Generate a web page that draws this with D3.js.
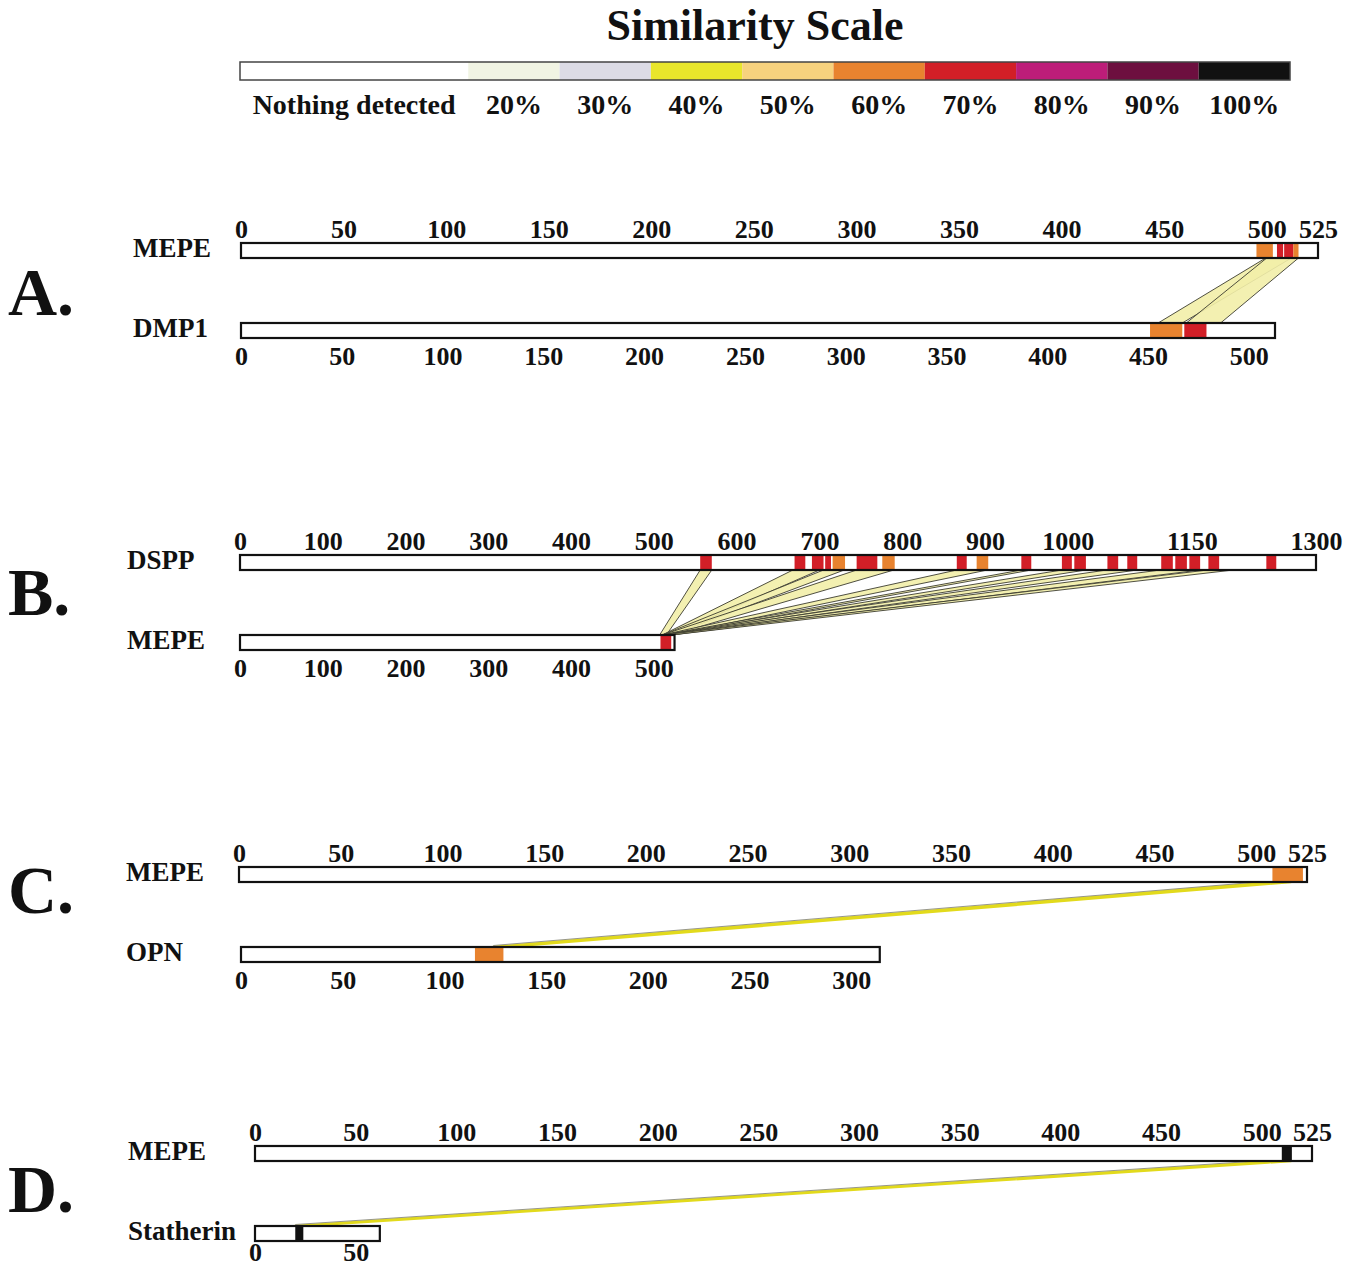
<!DOCTYPE html>
<html>
<head>
<meta charset="utf-8">
<script src="https://cdn.jsdelivr.net/npm/d3@7"></script>
<style>
  html, body { margin: 0; padding: 0; background: #ffffff; }
  svg { display: block; }
  text { font-family: "Liberation Serif", "Times New Roman", serif; font-weight: bold; fill: #111; }
</style>
</head>
<body>
<svg id="chart" width="1366" height="1269"></svg>
<script>
// ---- Similarity scale ----
const scaleLabels = ["Nothing detected", "20%", "30%", "40%", "50%", "60%", "70%", "80%", "90%", "100%"];
const scaleLevels = [0, 20, 30, 40, 50, 60, 70, 80, 90, 100];
const scaleColors = ["#ffffff", "#f1f4e3", "#dcdbe5", "#e9e62b", "#f7d27e", "#e8832f", "#d21f27", "#bd1d79", "#6d0f3f", "#111111"];

// ---- Protein lengths (residues) ----
const lenMEPE = 525;
const lenDMP1 = 513;
const lenDSPP = 1300;
const lenOPN = 314;
const lenStatherin = 62;

// ---- Tick labels ----
const ticksMEPE = [0, 50, 100, 150, 200, 250, 300, 350, 400, 450, 500, 525];
const ticksDMP1 = [0, 50, 100, 150, 200, 250, 300, 350, 400, 450, 500];
const ticksDSPP = [0, 100, 200, 300, 400, 500, 600, 700, 800, 900, 1000, 1150, 1300];
const ticksMEPEshort = [0, 100, 200, 300, 400, 500];
const ticksOPN = [0, 50, 100, 150, 200, 250, 300];
const ticksStatherin = [0, 50];

// ---- Similar regions: [start, end, similarity %] ----
const segA_MEPE = [[495, 503, 60], [505, 508, 70], [508.5, 513, 70], [513, 515.5, 60]];
const segA_DMP1 = [[451, 467, 60], [468, 479, 70]];
const segB_DSPP = [
  [556, 570, 70], [670, 683, 70], [691, 705, 70], [707, 714, 70], [716, 731, 60],
  [745, 770, 70], [776, 791, 60], [866, 878, 70], [890, 904, 60], [944, 956, 70],
  [993, 1005, 70], [1008, 1022, 70], [1048, 1061, 70], [1072, 1084, 70], [1113, 1127, 70],
  [1130, 1144, 70], [1147, 1160, 70], [1170, 1183, 70], [1240, 1252, 70]
];
const segB_MEPE = [[508, 521, 70]];
const segC_MEPE = [[508, 523, 60]];
const segC_OPN = [[115, 129, 60]];
const segD_MEPE = [[510, 515, 100]];
const segD_Statherin = [[20, 24, 100]];

// ---- Alignments: [top start, top end, bottom start, bottom end] ----
const linksA = [[499.5, 512, 455, 467], [500, 515.5, 469, 486]];
const linksB = [
  [556, 570, 507, 515], [668, 700, 510, 521], [705, 730, 510, 521], [745, 790, 510, 521],
  [866, 903, 510, 521], [944, 956, 511, 521], [993, 1022, 511, 521], [1047, 1084, 511, 521],
  [1112, 1160, 511, 521], [1169, 1200, 511, 521]
];
const linksC = [[510, 517, 124, 130]];
const linksD = [[509.5, 514.5, 20, 23.5]];

// ---------------------------------------------------------------------------
const svg = d3.select("#chart");
const colorOf = d3.scaleOrdinal().domain(scaleLevels).range(scaleColors);

// Legend: the "Nothing detected" cell is 2.5 cells wide
const cellUnits = scaleLevels.map((d, i) => (i === 0 ? 2.5 : 1));
const cumUnits = [0];
cellUnits.forEach(u => cumUnits.push(cumUnits[cumUnits.length - 1] + u));
const legendX = d3.scaleLinear().domain([0, cumUnits[cumUnits.length - 1]]).range([240, 1290]);
const legend = svg.append("g");
legend.append("text")
  .attr("x", 755).attr("y", 40)
  .attr("text-anchor", "middle")
  .style("font-size", "44px")
  .text("Similarity Scale");
legend.selectAll("rect.cell").data(scaleLevels).join("rect")
  .attr("class", "cell")
  .attr("x", (d, i) => legendX(cumUnits[i]))
  .attr("width", (d, i) => legendX(cumUnits[i + 1]) - legendX(cumUnits[i]))
  .attr("y", 62).attr("height", 18)
  .attr("fill", d => colorOf(d));
legend.append("rect")
  .attr("x", legendX(0)).attr("y", 62)
  .attr("width", legendX(cumUnits[cumUnits.length - 1]) - legendX(0)).attr("height", 18)
  .attr("fill", "none").attr("stroke", "#444").attr("stroke-width", 1.5);
legend.selectAll("text.lab").data(scaleLabels).join("text")
  .attr("class", "lab")
  .attr("x", (d, i) => (legendX(cumUnits[i]) + legendX(cumUnits[i + 1])) / 2)
  .attr("y", 114)
  .attr("text-anchor", "middle")
  .style("font-size", "28px")
  .text(d => d);

// ---- Panel drawing ----
const BAR_H = 15;

function drawPanel(p) {
  const g = svg.append("g");
  g.append("text")
    .attr("x", 8).attr("y", p.letterY)
    .style("font-size", "68px")
    .text(p.letter);

  const top = p.top, bot = p.bottom;
  const xTop = d3.scaleLinear().domain([0, top.len]).range([top.x0, top.x1]);
  const xBot = d3.scaleLinear().domain([0, bot.len]).range([bot.x0, bot.x1]);

  // alignment ribbons between the two sequences
  const yA = top.y + BAR_H, yB = bot.y;
  const lg = g.append("g");
  lg.selectAll("path.ribbon").data(p.links).join("path")
    .attr("class", "ribbon")
    .attr("d", d => `M${xTop(d[0])},${yA}L${xTop(d[1])},${yA}L${xBot(d[3])},${yB}L${xBot(d[2])},${yB}Z`)
    .attr("fill", p.linkFill)
    .attr("fill-opacity", p.linkOpacity)
    .attr("stroke", p.linkStroke)
    .attr("stroke-width", p.linkStrokeW)
    .attr("stroke-linejoin", "round");
  if (p.edgeStroke) {
    // thin grey outline along the upper edge of narrow ribbons
    lg.selectAll("path.edge").data(p.links).join("path")
      .attr("class", "edge")
      .attr("d", d => `M${xTop(d[0])},${yA - 1.5}L${xBot(d[2])},${yB - 1.5}`)
      .attr("fill", "none")
      .attr("stroke", p.edgeStroke)
      .attr("stroke-width", 0.9);
  }

  [[top, xTop, "top"], [bot, xBot, "bottom"]].forEach(([t, x, side]) => {
    const tg = g.append("g");
    tg.append("rect")
      .attr("x", x(0)).attr("y", t.y)
      .attr("width", x(t.len) - x(0)).attr("height", BAR_H)
      .attr("fill", "#fff");
    tg.selectAll("rect.seg").data(t.segs).join("rect")
      .attr("class", "seg")
      .attr("x", d => x(d[0])).attr("y", t.y)
      .attr("width", d => x(d[1]) - x(d[0])).attr("height", BAR_H)
      .attr("fill", d => colorOf(d[2]));
    tg.append("rect")
      .attr("x", x(0)).attr("y", t.y)
      .attr("width", x(t.len) - x(0)).attr("height", BAR_H)
      .attr("fill", "none").attr("stroke", "#111").attr("stroke-width", 2.2);

    const axis = (side === "top" ? d3.axisTop(x) : d3.axisBottom(x))
      .tickValues(t.ticks).tickSize(0).tickFormat(d3.format("d"))
      .tickPadding(side === "top" ? 5 : (t.padBottom || 8.5));
    const ag = tg.append("g")
      .attr("transform", `translate(0,${side === "top" ? t.y : t.y + BAR_H})`)
      .call(axis);
    ag.select(".domain").remove();
    ag.selectAll("text")
      .attr("fill", "#111")
      .style("font-family", "'Liberation Serif', 'Times New Roman', serif")
      .style("font-weight", "bold")
      .style("font-size", "26px");
    ag.attr("font-family", null).attr("font-size", null);

    tg.append("text")
      .attr("x", t.labelX).attr("y", t.y + BAR_H - 1)
      .style("font-size", "27px")
      .text(t.name);
  });
}

const paleLink = { linkFill: "#f2eea8", linkOpacity: 0.9, linkStroke: "#3c3c30", linkStrokeW: 0.9 };
const brightLink = { linkFill: "#e2da1c", linkOpacity: 1, linkStroke: "#e2da1c", linkStrokeW: 2.6, edgeStroke: "#8c8c80" };

drawPanel(Object.assign({
  letter: "A.", letterY: 315,
  top: { name: "MEPE", len: lenMEPE, x0: 241, x1: 1318, y: 243, segs: segA_MEPE, ticks: ticksMEPE, labelX: 133 },
  bottom: { name: "DMP1", len: lenDMP1, x0: 241, x1: 1275, y: 323, segs: segA_DMP1, ticks: ticksDMP1, labelX: 133 },
  links: linksA
}, paleLink));

drawPanel(Object.assign({
  letter: "B.", letterY: 615,
  top: { name: "DSPP", len: lenDSPP, x0: 240, x1: 1316, y: 555, segs: segB_DSPP, ticks: ticksDSPP, labelX: 127 },
  bottom: { name: "MEPE", len: lenMEPE, x0: 240, x1: 240 + lenMEPE * (1076 / lenDSPP), y: 635, segs: segB_MEPE, ticks: ticksMEPEshort, labelX: 127 },
  links: linksB
}, paleLink));

drawPanel(Object.assign({
  letter: "C.", letterY: 913,
  top: { name: "MEPE", len: lenMEPE, x0: 239, x1: 1307, y: 867, segs: segC_MEPE, ticks: ticksMEPE, labelX: 126 },
  bottom: { name: "OPN", len: lenOPN, x0: 241, x1: 241 + lenOPN * (1068 / lenMEPE), y: 947, segs: segC_OPN, ticks: ticksOPN, labelX: 126 },
  links: linksC
}, brightLink));

drawPanel(Object.assign({
  letter: "D.", letterY: 1212,
  top: { name: "MEPE", len: lenMEPE, x0: 255, x1: 1312, y: 1146, segs: segD_MEPE, ticks: ticksMEPE, labelX: 128 },
  bottom: { name: "Statherin", len: lenStatherin, x0: 255, x1: 255 + lenStatherin * (1057 / lenMEPE), y: 1226, segs: segD_Statherin, ticks: ticksStatherin, labelX: 128, padBottom: 2 },
  links: linksD
}, brightLink));
</script>
</body>
</html>
